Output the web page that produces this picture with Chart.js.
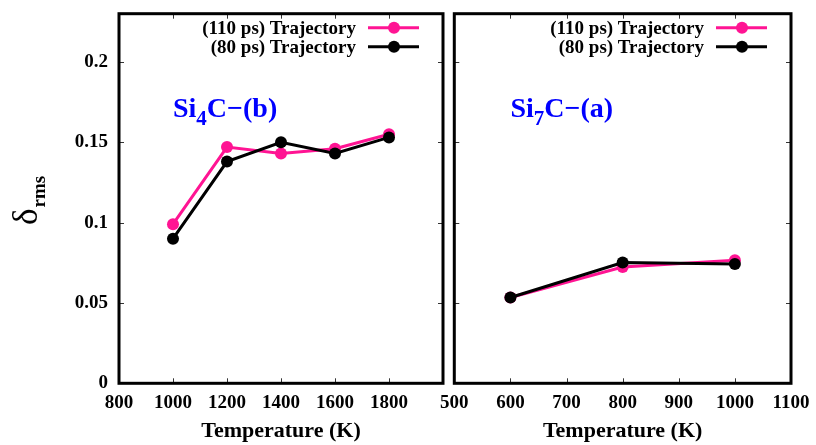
<!DOCTYPE html>
<html><head><meta charset="utf-8">
<script src="https://cdn.jsdelivr.net/npm/chart.js@4/dist/chart.umd.min.js"></script>
<style>
html,body{margin:0;padding:0;background:#fff;}
#wrap{position:relative;width:816px;height:445px;background:#fff;}
canvas{position:absolute;left:0;top:0;}
</style>
</head><body>
<div id="wrap"><canvas id="c1" width="816" height="445"></canvas><canvas id="c2" width="816" height="445"></canvas></div>
<script>
// ---- data ----
const tempsB = [1000, 1200, 1400, 1600, 1800];
const si4c_110 = [0.099, 0.147, 0.143, 0.146, 0.155];
const si4c_80 = [0.090, 0.138, 0.150, 0.143, 0.153];
const tempsA = [600, 800, 1000];
const si7c_110 = [0.0534, 0.0724, 0.0766];
const si7c_80 = [0.0534, 0.0751, 0.0743];
const xTicksLeft = [800, 1000, 1200, 1400, 1600, 1800];
const xTicksRight = [500, 600, 700, 800, 900, 1000, 1100];
const yTicks = [0, 0.05, 0.1, 0.15, 0.2];
const seriesLabels = ['(110 ps) Trajectory', '(80 ps) Trajectory'];
const xTitle = 'Temperature (K)';
const yTitleMain = 'δ';
const yTitleSub = 'rms';
const annLeft = {pre: 'Si', sub: '4', post: 'C\u2212(b)'};
const annRight = {pre: 'Si', sub: '7', post: 'C\u2212(a)'};

const PINK = '#ff1493';
const BLACK = '#000000';
const SERIF = "'Liberation Serif','Times New Roman',Times,serif";

function pts(xs, ys) { return xs.map((x, i) => ({x: x, y: ys[i]})); }

const framePlugin = {
  id: 'framePlugin',
  afterDatasetsDraw(chart, args, opts) {
    const {ctx, chartArea: a, scales} = chart;
    ctx.save();
    ctx.strokeStyle = '#333';
    ctx.lineWidth = 1;
    const tl = 5;
    ctx.beginPath();
    opts.xTicks.forEach(v => {
      const px = Math.round(scales.x.getPixelForValue(v)) + 0.5;
      if (px <= a.left + 2 || px >= a.right - 2) return;
      ctx.moveTo(px, a.bottom); ctx.lineTo(px, a.bottom - tl);
      ctx.moveTo(px, a.top); ctx.lineTo(px, a.top + tl);
    });
    opts.yTicks.forEach(v => {
      const py = Math.round(scales.y.getPixelForValue(v)) + 0.5;
      if (py >= a.bottom - 2 || py <= a.top + 2) return;
      ctx.moveTo(a.left, py); ctx.lineTo(a.left + tl, py);
      ctx.moveTo(a.right, py); ctx.lineTo(a.right - tl, py);
    });
    ctx.stroke();
    ctx.strokeStyle = '#000';
    ctx.lineWidth = 3;
    ctx.strokeRect(a.left, a.top, a.right - a.left, a.bottom - a.top);
    ctx.restore();
  },
  afterDraw(chart, args, opts) {
    const {ctx, chartArea: a, scales} = chart;
    ctx.save();
    const ds = chart.data.datasets;
    ds.forEach((d, i) => {
      const y = a.top + 14 + i * 19;
      ctx.font = 'bold 19px ' + SERIF;
      ctx.fillStyle = '#000';
      ctx.textAlign = 'right';
      ctx.textBaseline = 'middle';
      ctx.fillText(d.label, a.right - 87, y + 1);
      ctx.strokeStyle = d.borderColor;
      ctx.lineWidth = 3;
      ctx.beginPath();
      ctx.moveTo(a.right - 75, y); ctx.lineTo(a.right - 24, y);
      ctx.stroke();
      ctx.fillStyle = d.borderColor;
      ctx.beginPath();
      ctx.arc(a.right - 49, y, 6, 0, Math.PI * 2);
      ctx.fill();
    });
    const an = opts.ann;
    let x = scales.x.getPixelForValue(an.x);
    const yb = scales.y.getPixelForValue(an.y);
    ctx.fillStyle = '#0000ff';
    ctx.textAlign = 'left';
    ctx.textBaseline = 'alphabetic';
    ctx.font = 'bold 28px ' + SERIF;
    ctx.fillText(an.pre, x, yb);
    x += ctx.measureText(an.pre).width;
    ctx.font = 'bold 21px ' + SERIF;
    ctx.fillText(an.sub, x, yb + 8);
    x += ctx.measureText(an.sub).width;
    ctx.font = 'bold 28px ' + SERIF;
    ctx.fillText(an.post, x, yb);
    if (opts.yTitle) {
      ctx.save();
      ctx.translate(37, 225);
      ctx.rotate(-Math.PI / 2);
      ctx.fillStyle = '#000';
      ctx.font = '35px ' + SERIF;
      ctx.fillText(yTitleMain, 0, 0);
      const w = ctx.measureText(yTitleMain).width;
      ctx.font = 'bold 19px ' + SERIF;
      ctx.fillText(yTitleSub, w + 1, 8);
      ctx.restore();
    }
    ctx.restore();
  }
};

function makeChart(id, xs, y110, y80, xmin, xmax, xTicks, showY, padLeft, padRight, yWidth, ann) {
  return new Chart(document.getElementById(id), {
    type: 'line',
    data: {
      datasets: [
        {label: seriesLabels[0], data: pts(xs, y110), borderColor: PINK, backgroundColor: PINK,
         pointBackgroundColor: PINK, pointBorderWidth: 0, pointRadius: 6, borderWidth: 3, order: 2, tension: 0},
        {label: seriesLabels[1], data: pts(xs, y80), borderColor: BLACK, backgroundColor: BLACK,
         pointBackgroundColor: BLACK, pointBorderWidth: 0, pointRadius: 6, borderWidth: 3, order: 1, tension: 0}
      ]
    },
    options: {
      responsive: false,
      animation: false,
      devicePixelRatio: 1,
      layout: {padding: {left: padLeft, right: padRight, top: 13.7, bottom: 0}},
      plugins: {
        legend: {display: false},
        tooltip: {enabled: false},
        framePlugin: {xTicks: xTicks, yTicks: yTicks, ann: ann, yTitle: showY}
      },
      scales: {
        x: {
          type: 'linear', min: xmin, max: xmax,
          grid: {display: false, drawTicks: false},
          border: {display: false},
          afterBuildTicks: s => { s.ticks = xTicks.map(v => ({value: v})); },
          afterFit: s => { s.height = 61.7; s.paddingLeft = 0; s.paddingRight = 0; },
          ticks: {
            autoSkip: false, maxRotation: 0, padding: 8, color: '#000',
            font: {family: SERIF, size: 19, weight: 'bold'},
            callback: v => String(v)
          },
          title: {display: true, text: xTitle, color: '#000', padding: 0,
                  font: {family: SERIF, size: 22, weight: 'bold', lineHeight: 1.2}}
        },
        y: {
          type: 'linear', min: 0, max: 0.23,
          grid: {display: false, drawTicks: false},
          border: {display: false},
          afterBuildTicks: s => { s.ticks = yTicks.map(v => ({value: v})); },
          afterFit: s => { s.width = yWidth; s.paddingTop = 0; s.paddingBottom = 0; },
          ticks: {
            display: showY, padding: 11, color: '#000',
            font: {family: SERIF, size: 19, weight: 'bold'},
            callback: v => String(v)
          }
        }
      }
    },
    plugins: [framePlugin]
  });
}

makeChart('c1', tempsB, si4c_110, si4c_80, 800, 2000, xTicksLeft, true, 0, 816 - 443, 119,
          {pre: annLeft.pre, sub: annLeft.sub, post: annLeft.post, x: 1000, y: 0.166});
makeChart('c2', tempsA, si7c_110, si7c_80, 500, 1100, xTicksRight, false, 454.3, 816 - 791, 0,
          {pre: annRight.pre, sub: annRight.sub, post: annRight.post, x: 600, y: 0.166});
</script>
</body></html>
